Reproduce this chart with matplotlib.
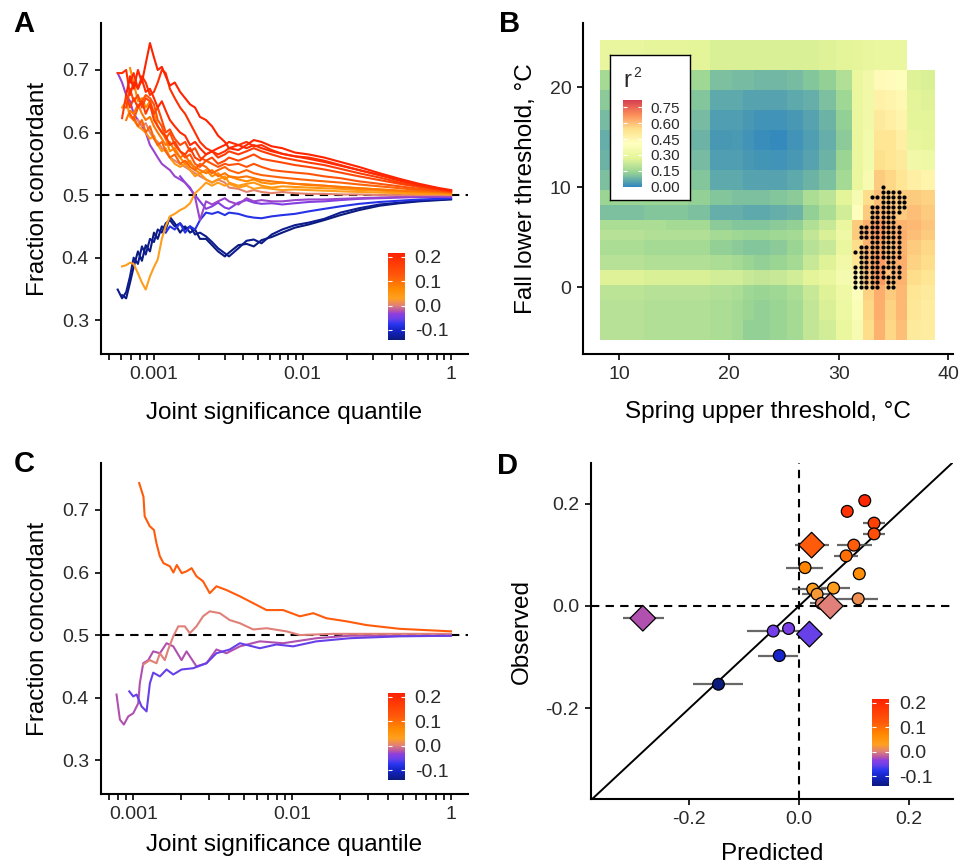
import numpy as np
import matplotlib
matplotlib.use("Agg")
import matplotlib.pyplot as plt
from matplotlib.colors import LinearSegmentedColormap, Normalize
from matplotlib.cm import ScalarMappable
from matplotlib.ticker import FixedLocator, FixedFormatter, LogLocator, NullFormatter

# --- four panel figure: concordance curves, threshold heatmap, predicted vs observed ---

plt.rcParams['font.family'] = ['Liberation Sans', 'DejaVu Sans']
plt.rcParams['axes.unicode_minus'] = False

nan = np.nan

# ---------------- Panel A data (quantile grid shared by all lines) ----------------
a_quantile = [0.00057, 0.00061, 0.00065, 0.00069, 0.00073, 0.00078, 0.00083, 0.00088, 0.00094, 0.001,
              0.00106, 0.00113, 0.0012, 0.00128, 0.00138, 0.0015, 0.00162, 0.00175, 0.00189, 0.00204,
              0.00224, 0.00246, 0.0027, 0.003, 0.0032, 0.0037, 0.0042, 0.0047, 0.0053, 0.0062,
              0.0073, 0.0089, 0.011, 0.014, 0.018, 0.024, 0.033, 0.045, 0.061, 0.084, 0.1]

a_red1 = [nan, nan, 0.66, 0.69, 0.67, 0.70, 0.68, 0.71, 0.743, 0.72, 0.70, 0.705, 0.69, 0.675, 0.68, 0.665,
          0.655, 0.645, 0.64, 0.625, 0.62, 0.61, 0.595, 0.585, 0.575, 0.572, 0.58, 0.588, 0.585, 0.578,
          0.575, 0.568, 0.565, 0.56, 0.553, 0.545, 0.535, 0.526, 0.518, 0.511, 0.508]
a_red2 = [nan, nan, nan, 0.68, 0.695, 0.67, 0.685, 0.665, 0.67, 0.655, 0.64, 0.65, 0.635, 0.62, 0.61, 0.60,
          0.595, 0.58, 0.585, 0.575, 0.565, 0.57, 0.575, 0.58, 0.585, 0.58, 0.575, 0.58, 0.575, 0.57,
          0.566, 0.562, 0.558, 0.553, 0.547, 0.54, 0.532, 0.523, 0.516, 0.51, 0.507]
a_red3 = [0.695, 0.695, 0.70, 0.66, 0.68, 0.67, 0.69, 0.68, 0.66, 0.665, 0.68, 0.70, 0.695, 0.67, 0.655, 0.64,
          0.63, 0.615, 0.60, 0.585, 0.575, 0.57, 0.565, 0.57, 0.575, 0.58, 0.585, 0.578, 0.58, 0.572,
          0.566, 0.562, 0.56, 0.555, 0.548, 0.54, 0.532, 0.524, 0.516, 0.51, 0.507]
a_red4 = [nan, 0.623, 0.66, 0.64, 0.655, 0.64, 0.65, 0.63, 0.645, 0.62, 0.61, 0.60, 0.595, 0.58, 0.585, 0.57,
          0.565, 0.575, 0.56, 0.555, 0.565, 0.57, 0.56, 0.565, 0.57, 0.565, 0.57, 0.575, 0.57, 0.565,
          0.56, 0.556, 0.552, 0.548, 0.542, 0.535, 0.528, 0.52, 0.514, 0.509, 0.506]
a_red5 = [nan, nan, 0.64, 0.67, 0.65, 0.66, 0.64, 0.655, 0.65, 0.63, 0.64, 0.62, 0.60, 0.605, 0.59, 0.58,
          0.585, 0.57, 0.575, 0.56, 0.555, 0.56, 0.55, 0.555, 0.56, 0.555, 0.56, 0.565, 0.558, 0.555,
          0.552, 0.548, 0.545, 0.541, 0.536, 0.53, 0.524, 0.518, 0.513, 0.508, 0.506]
a_red6 = [nan, nan, nan, 0.63, 0.62, 0.64, 0.65, 0.66, 0.655, 0.645, 0.62, 0.61, 0.59, 0.60, 0.58, 0.57,
          0.56, 0.565, 0.55, 0.545, 0.555, 0.55, 0.545, 0.55, 0.548, 0.55, 0.545, 0.55, 0.545, 0.54,
          0.538, 0.536, 0.534, 0.53, 0.527, 0.522, 0.518, 0.514, 0.51, 0.507, 0.505]
a_red7 = [nan, nan, nan, nan, 0.625, 0.61, 0.62, 0.60, 0.61, 0.59, 0.58, 0.585, 0.57, 0.56, 0.565, 0.55,
          0.555, 0.545, 0.54, 0.55, 0.545, 0.535, 0.54, 0.545, 0.54, 0.535, 0.54, 0.535, 0.532, 0.53,
          0.528, 0.526, 0.524, 0.522, 0.52, 0.517, 0.514, 0.511, 0.508, 0.506, 0.504]
a_orange1 = [nan, nan, 0.62, 0.635, 0.63, 0.645, 0.63, 0.62, 0.625, 0.61, 0.60, 0.59, 0.58, 0.585, 0.57, 0.56,
             0.565, 0.55, 0.545, 0.54, 0.535, 0.54, 0.53, 0.535, 0.53, 0.528, 0.53, 0.527, 0.524, 0.522,
             0.52, 0.518, 0.517, 0.515, 0.513, 0.511, 0.509, 0.507, 0.506, 0.505, 0.504]
a_orange2 = [nan, nan, nan, 0.703, 0.68, 0.65, 0.655, 0.64, 0.65, 0.63, 0.61, 0.60, 0.59, 0.57, 0.575, 0.56,
             0.55, 0.555, 0.54, 0.535, 0.54, 0.53, 0.535, 0.525, 0.53, 0.525, 0.522, 0.525, 0.52, 0.518,
             0.52, 0.518, 0.516, 0.515, 0.513, 0.511, 0.509, 0.507, 0.505, 0.504, 0.503]
a_orange3 = [nan, 0.64, 0.65, 0.625, 0.62, 0.61, 0.605, 0.60, 0.59, 0.595, 0.58, 0.57, 0.575, 0.56, 0.55, 0.545,
             0.55, 0.54, 0.53, 0.535, 0.525, 0.52, 0.525, 0.53, 0.52, 0.515, 0.518, 0.52, 0.515, 0.512,
             0.514, 0.513, 0.512, 0.511, 0.51, 0.508, 0.507, 0.505, 0.504, 0.503, 0.502]
a_orange4 = [nan, 0.386, 0.388, 0.392, 0.39, 0.375, 0.36, 0.349, 0.37, 0.385, 0.397, 0.43, 0.45, 0.466, 0.47,
             0.476, 0.48, 0.487, 0.503, 0.51, 0.52, 0.515, 0.52, 0.515, 0.518, 0.512, 0.515, 0.51, 0.512,
             0.51, 0.508, 0.509, 0.508, 0.507, 0.506, 0.505, 0.504, 0.503, 0.502, 0.502, 0.501]
a_salmon = [nan, nan, nan, nan, nan, 0.62, 0.61, 0.615, 0.60, 0.59, 0.585, 0.575, 0.57, 0.56, 0.555, 0.55,
            0.545, 0.54, 0.535, 0.53, 0.525, 0.52, 0.525, 0.52, 0.512, 0.51, 0.505, 0.508, 0.505, 0.503,
            0.505, 0.503, 0.502, 0.502, 0.501, 0.501, 0.5, 0.5, 0.5, 0.5, 0.5]
a_purple1 = [0.695, 0.68, 0.66, 0.65, 0.63, 0.62, 0.61, 0.60, 0.58, 0.57, 0.56, 0.55, 0.545, 0.54, 0.53, 0.525,
             0.52, 0.512, 0.497, 0.46, 0.49, 0.485, 0.49, 0.495, 0.49, 0.485, 0.495, 0.49, 0.492, 0.49,
             0.49, 0.492, 0.493, 0.493, 0.494, 0.495, 0.496, 0.497, 0.498, 0.498, 0.498]
a_purple2 = [nan, nan, nan, nan, nan, nan, nan, nan, nan, nan, nan, nan, nan, nan, nan, 0.53,
             0.52, 0.51, 0.5, 0.49, 0.478, 0.482, 0.488, 0.48, 0.478, 0.488, 0.492, 0.488, 0.486, 0.487,
             0.485, 0.487, 0.489, 0.49, 0.492, 0.494, 0.495, 0.496, 0.497, 0.497, 0.497]
a_blue = [nan, nan, nan, nan, nan, nan, nan, nan, nan, nan, nan, nan, 0.44, 0.45, 0.445, 0.455,
          0.44, 0.45, 0.445, 0.46, 0.472, 0.47, 0.473, 0.468, 0.472, 0.47, 0.466, 0.464, 0.463, 0.466,
          0.468, 0.47, 0.474, 0.478, 0.482, 0.486, 0.489, 0.491, 0.493, 0.494, 0.495]
a_navy1 = [0.349, 0.335, 0.345, 0.37, 0.40, 0.39, 0.418, 0.405, 0.43, 0.425, 0.445, 0.44, 0.455, 0.46, 0.45,
           0.455, 0.445, 0.45, 0.437, 0.44, 0.434, 0.425, 0.415, 0.407, 0.402, 0.415, 0.427, 0.429, 0.423,
           0.437, 0.445, 0.452, 0.456, 0.462, 0.472, 0.479, 0.485, 0.488, 0.491, 0.493, 0.494]
a_navy2 = [nan, 0.34, 0.335, 0.36, 0.385, 0.41, 0.395, 0.42, 0.41, 0.44, 0.43, 0.45, 0.445, 0.465, 0.455,
           0.44, 0.45, 0.44, 0.445, 0.43, 0.43, 0.42, 0.41, 0.402, 0.408, 0.42, 0.422, 0.418, 0.428,
           0.433, 0.44, 0.448, 0.453, 0.46, 0.468, 0.476, 0.483, 0.487, 0.49, 0.492, 0.493]

a_series = [a_navy2, a_navy1, a_blue, a_purple2, a_purple1, a_salmon, a_orange4, a_orange3, a_orange2,
            a_orange1, a_red7, a_red6, a_red5, a_red4, a_red3, a_red2, a_red1]
a_values = [-0.14, -0.13, -0.08, -0.04, -0.03, 0.005, 0.035, 0.05, 0.07,
            0.09, 0.11, 0.13, 0.15, 0.17, 0.19, 0.20, 0.21]

# ---------------- Panel C data ----------------
c_red_q = [0.00109, 0.00116, 0.00118, 0.00127, 0.00135, 0.0014, 0.00147, 0.00155, 0.0017, 0.00179,
           0.00188, 0.00202, 0.00217, 0.00233, 0.0025, 0.00275, 0.00303, 0.00334, 0.00386, 0.00469,
           0.00569, 0.0069, 0.00878, 0.0112, 0.0136, 0.0164, 0.022, 0.0294, 0.0476, 0.1]
c_red_y = [0.743, 0.721, 0.69, 0.674, 0.668, 0.647, 0.626, 0.615, 0.61, 0.60,
           0.612, 0.599, 0.602, 0.607, 0.594, 0.586, 0.567, 0.578, 0.572, 0.562,
           0.551, 0.54, 0.54, 0.53, 0.535, 0.527, 0.522, 0.516, 0.51, 0.506]
c_magenta_q = [0.000785, 0.000824, 0.000873, 0.00093, 0.001, 0.001075, 0.0011, 0.001156, 0.001243, 0.001336,
               0.001472, 0.001621, 0.001786, 0.002014, 0.002165, 0.0025, 0.00289, 0.00334, 0.00386, 0.00469,
               0.00626, 0.00878, 0.01422, 0.02306, 0.1]
c_magenta_y = [0.405, 0.365, 0.357, 0.37, 0.375, 0.391, 0.423, 0.455, 0.46, 0.474,
               0.471, 0.487, 0.482, 0.46, 0.474, 0.45, 0.455, 0.477, 0.471, 0.482,
               0.49, 0.487, 0.495, 0.499, 0.499]
c_salmon_q = [0.001156, 0.001273, 0.0014, 0.001472, 0.00158, 0.00166, 0.001786, 0.00192, 0.00211, 0.00227,
              0.0025, 0.00275, 0.00303, 0.00351, 0.00405, 0.00469, 0.00569, 0.0069, 0.0092, 0.0112,
              0.0181, 0.1]
c_salmon_y = [0.453, 0.46, 0.455, 0.471, 0.46, 0.477, 0.498, 0.514, 0.514, 0.503,
              0.514, 0.53, 0.538, 0.535, 0.524, 0.519, 0.509, 0.511, 0.506, 0.50,
              0.502, 0.502]
c_blue_q = [0.000944, 0.001, 0.00105, 0.001128, 0.001213, 0.001273, 0.001336, 0.001472, 0.001621, 0.001786,
            0.002014, 0.00238, 0.00289, 0.00334, 0.00405, 0.00469, 0.00626, 0.00797, 0.01014, 0.01422,
            0.02306, 0.0476, 0.1]
c_blue_y = [0.41, 0.402, 0.405, 0.386, 0.378, 0.423, 0.44, 0.434, 0.445, 0.437,
            0.445, 0.447, 0.455, 0.471, 0.477, 0.487, 0.479, 0.485, 0.482, 0.49,
            0.495, 0.498, 0.499]
c_values = [0.119, -0.024, 0.0, -0.055]

quantile_ticks = [0.001, 0.01, 0.1]
quantile_labels = ['0.001', '0.01', '1']

# ---------------- Panel B data (r2 over threshold grid) ----------------
b_x_edges = [8.25, 10.25, 12.25, 14.25, 16.25, 18.25, 20.25, 21.25, 22.25, 23.75, 25.25,
             26.75, 28.25, 29.75, 31.25, 32.25, 33.25, 34.25, 35.25, 36.25, 37.5, 38.75]
b_y_edges = [-5.25, -3.25, -1.25, 0.25, 1.75, 3.25, 4.75, 5.75, 6.75, 8.25, 9.75,
             11.75, 13.75, 15.75, 17.75, 19.75, 21.75, 24.75]
b_r2 = [
    [0.19, 0.19, 0.18, 0.18, 0.18, 0.17, 0.16, 0.13, 0.13, 0.14, 0.16, 0.21, 0.24, 0.30, 0.36, 0.55, 0.62, 0.56, 0.60, 0.50, 0.49],
    [0.19, 0.19, 0.18, 0.18, 0.18, 0.17, 0.16, 0.14, 0.13, 0.14, 0.16, 0.21, 0.25, 0.31, 0.38, 0.56, 0.63, 0.57, 0.61, 0.51, 0.49],
    [0.20, 0.20, 0.19, 0.19, 0.19, 0.18, 0.17, 0.15, 0.14, 0.15, 0.17, 0.22, 0.26, 0.32, 0.40, 0.57, 0.63, 0.58, 0.61, 0.52, 0.50],
    [0.26, 0.26, 0.25, 0.25, 0.25, 0.24, 0.24, 0.22, 0.21, 0.22, 0.24, 0.27, 0.30, 0.35, 0.45, 0.60, 0.66, 0.60, 0.62, 0.55, 0.52],
    [0.19, 0.19, 0.18, 0.18, 0.18, 0.17, 0.16, 0.14, 0.13, 0.14, 0.16, 0.22, 0.26, 0.33, 0.52, 0.62, 0.66, 0.61, 0.63, 0.57, 0.55],
    [0.17, 0.17, 0.16, 0.16, 0.16, 0.13, 0.12, 0.11, 0.11, 0.12, 0.14, 0.19, 0.22, 0.30, 0.55, 0.62, 0.65, 0.60, 0.62, 0.58, 0.56],
    [0.19, 0.19, 0.18, 0.18, 0.18, 0.16, 0.15, 0.14, 0.14, 0.15, 0.16, 0.21, 0.25, 0.32, 0.58, 0.63, 0.66, 0.62, 0.63, 0.60, 0.58],
    [0.17, 0.17, 0.17, 0.16, 0.16, 0.12, 0.11, 0.11, 0.11, 0.12, 0.13, 0.18, 0.22, 0.30, 0.58, 0.63, 0.66, 0.62, 0.62, 0.61, 0.59],
    [0.10, 0.10, 0.11, 0.11, 0.10, 0.07, 0.07, 0.06, 0.06, 0.07, 0.08, 0.13, 0.17, 0.24, 0.40, 0.58, 0.62, 0.60, 0.58, 0.60, 0.58],
    [0.14, 0.14, 0.14, 0.14, 0.13, 0.11, 0.10, 0.10, 0.10, 0.11, 0.12, 0.17, 0.20, 0.27, 0.36, 0.55, 0.60, 0.58, 0.58, 0.58, 0.57],
    [0.10, 0.11, 0.11, 0.11, 0.11, 0.06, 0.06, 0.05, 0.05, 0.05, 0.06, 0.08, 0.10, 0.16, 0.30, 0.36, 0.58, 0.56, 0.52, 0.48, 0.46],
    [0.08, 0.09, 0.09, 0.10, 0.09, 0.04, 0.04, 0.03, 0.025, 0.02, 0.03, 0.05, 0.08, 0.14, 0.30, 0.34, 0.54, 0.52, 0.50, 0.33, 0.32],
    [0.07, 0.08, 0.08, 0.09, 0.08, 0.03, 0.035, 0.02, 0.01, 0.005, 0.02, 0.04, 0.07, 0.12, 0.30, 0.34, 0.52, 0.52, 0.48, 0.29, 0.28],
    [0.09, 0.09, 0.10, 0.10, 0.09, 0.04, 0.04, 0.03, 0.02, 0.02, 0.03, 0.05, 0.08, 0.13, 0.30, 0.33, 0.50, 0.48, 0.46, 0.27, 0.27],
    [0.12, 0.12, 0.13, 0.12, 0.11, 0.06, 0.06, 0.05, 0.05, 0.05, 0.06, 0.07, 0.10, 0.15, 0.30, 0.33, 0.47, 0.46, 0.44, 0.27, 0.26],
    [0.16, 0.16, 0.17, 0.16, 0.15, 0.10, 0.09, 0.09, 0.085, 0.085, 0.09, 0.11, 0.13, 0.18, 0.30, 0.33, 0.43, 0.42, 0.40, 0.26, 0.25],
    [0.29, 0.29, 0.28, 0.28, 0.27, 0.25, 0.25, 0.25, 0.25, 0.25, 0.25, 0.25, 0.26, 0.27, 0.28, 0.29, 0.30, 0.30, 0.30, nan, nan],
]
b_r2_ticks = [0.0, 0.15, 0.30, 0.45, 0.60, 0.75]

# best-fit threshold combinations (dots), one string per fall threshold
b_dot_x = [31.5, 32.0, 32.5, 33.0, 33.5, 34.0, 34.5, 35.0, 35.5, 36.0]
b_dot_y = [10.0, 9.5, 9.0, 8.5, 8.0, 7.5, 7.0, 6.5, 6.0, 5.5, 5.0,
           4.5, 4.0, 3.5, 3.0, 2.5, 2.0, 1.5, 1.0, 0.5, 0.0]
b_dot_mask = [".....X....", ".....XXXX.", "...XXXXXXX", ".....XXXXX", "...XXXXXXX",
              "...XXXXXX.", "...XXXXX..", "...XXXXX..", ".XXXXXXXX.", ".XXXXXXXX.",
              ".XXXXXXXX.", "...XXXXXX.", ".XXXXXXXX.", "XXXXXXXXX.", ".XXXXXXXX.",
              ".XXXX.XX..", "XXXXXXXXX.", "XXXXXX.XX.", "XXXXXXXXX.", "XXXXX.XX..",
              "XXXXX.XX.."]

# ---------------- Panel D data ----------------
d_circle_pred = [-0.147, -0.036, -0.047, -0.019, 0.011, 0.025, 0.033, 0.041, 0.063,
                 0.108, 0.11, 0.086, 0.1, 0.088, 0.12, 0.137, 0.137]
d_circle_obs = [-0.153, -0.097, -0.049, -0.044, 0.075, 0.033, 0.023, 0.005, 0.035,
                0.014, 0.063, 0.098, 0.119, 0.185, 0.206, 0.162, 0.141]
d_circle_lo = [-0.193, -0.074, -0.095, -0.03, -0.023, -0.013, 0.005, 0.02, 0.04,
               0.063, 0.105, 0.063, 0.069, 0.083, 0.115, 0.117, 0.117]
d_circle_hi = [-0.102, -0.001, 0.002, -0.008, 0.043, 0.05, 0.06, 0.063, 0.093,
               0.145, 0.115, 0.108, 0.133, 0.093, 0.125, 0.157, 0.157]
d_diamond_pred = [-0.285, 0.019, 0.057, 0.023]
d_diamond_obs = [-0.024, -0.055, 0.0, 0.119]
d_diamond_lo = [-0.322, 0.008, 0.035, -0.007]
d_diamond_hi = [-0.246, 0.03, 0.082, 0.054]
d_ticks = [-0.2, 0.0, 0.2]
d_tick_labels = ['-0.2', '0.0', '0.2']

cbar_ticks = [-0.1, 0.0, 0.1, 0.2]
cbar_labels = ['-0.1', '0.0', '0.1', '0.2']

# ---------------- colours ----------------
effect_nodes = [(-0.141, '#0b1a7d'), (-0.10, '#1524c8'), (-0.075, '#2a36f0'), (-0.055, '#6a40e8'),
                (-0.035, '#8c3ee0'), (-0.024, '#b050b0'), (0.0, '#e08078'), (0.03, '#ffa020'),
                (0.07, '#ff8a00'), (0.12, '#ff5a0a'), (0.215, '#ff2200')]
e_min, e_max = effect_nodes[0][0], effect_nodes[-1][0]
effect_cmap = LinearSegmentedColormap.from_list(
    'effect', [((v - e_min) / (e_max - e_min), c) for v, c in effect_nodes])
effect_norm = Normalize(e_min, e_max)

r2_cmap = LinearSegmentedColormap.from_list(
    'spectral7', ['#3288bd', '#99d594', '#e6f598', '#ffffbf', '#fee08b', '#fc8d59', '#d53e4f'])
r2_norm = Normalize(0.0, 0.82)

W, H = 961, 867
TEXT = '#2a2a2a'


def px_box(left, top, right, bottom):
    return [left / W, 1 - bottom / H, (right - left) / W, (bottom - top) / H]


def style_axes(ax):
    for side in ['top', 'right']:
        ax.spines[side].set_visible(False)
    for side in ['left', 'bottom']:
        ax.spines[side].set_linewidth(1.5)
    ax.tick_params(which='both', length=4.5, width=1.2, color='black',
                   labelsize=14, labelcolor=TEXT, pad=4)
    ax.set_facecolor('none')


def effect_colorbar(box):
    cax = fig.add_axes(px_box(*box))
    cb = fig.colorbar(ScalarMappable(effect_norm, effect_cmap), cax=cax)
    cb.outline.set_visible(False)
    cb.set_ticks(cbar_ticks)
    cb.set_ticklabels(cbar_labels)
    cax.tick_params(axis='y', direction='in', left=True, right=True, length=3, width=0.8,
                    color='white', labelsize=14, labelcolor=TEXT, pad=7)
    return cb


def concordance_axes(ax, xlim, xpad):
    style_axes(ax)
    ax.set_xscale('log')
    ax.set_xlim(*xlim)
    ax.set_ylim(0.246, 0.7746)
    ax.xaxis.set_major_locator(FixedLocator(quantile_ticks))
    ax.xaxis.set_major_formatter(FixedFormatter(quantile_labels))
    ax.xaxis.set_minor_locator(LogLocator(base=10, subs=np.arange(2, 10)))
    ax.xaxis.set_minor_formatter(NullFormatter())
    ax.set_yticks([0.3, 0.4, 0.5, 0.6, 0.7])
    ax.set_yticklabels(['0.3', '0.4', '0.5', '0.6', '0.7'])
    ax.axhline(0.5, color='black', lw=1.5, ls=(0, (4, 3)), zorder=1)
    ax.set_xlabel('Joint significance quantile', fontsize=17.5, labelpad=xpad)
    ax.set_ylabel('Fraction concordant', fontsize=17.5, labelpad=9)


fig = plt.figure(figsize=(W / 100, H / 100), dpi=100)

# 1. Panel A
ax_a = fig.add_axes(px_box(100.7, 23.3, 468, 354))
for ys, val in zip(a_series, a_values):
    ax_a.plot(a_quantile, ys, color=effect_cmap(effect_norm(val)), lw=1.5, zorder=2)
concordance_axes(ax_a, (4.38e-4, 0.13), 14)
effect_colorbar((388, 253, 405, 340))

# 2. Panel C
ax_c = fig.add_axes(px_box(100.7, 463.3, 468.3, 794))
c_lines = [(c_red_q, c_red_y), (c_magenta_q, c_magenta_y), (c_salmon_q, c_salmon_y), (c_blue_q, c_blue_y)]
for (qs, ys), val in zip(c_lines, c_values):
    ax_c.plot(qs, ys, color=effect_cmap(effect_norm(val)), lw=1.5, zorder=2)
concordance_axes(ax_c, (6.24e-4, 0.1285), 8)
effect_colorbar((388, 693.3, 405, 780))

# 3. Panel B heatmap
ax_b = fig.add_axes(px_box(583.3, 23.3, 952.7, 354))
style_axes(ax_b)
ax_b.pcolormesh(b_x_edges, b_y_edges, np.ma.masked_invalid(np.array(b_r2)),
                cmap=r2_cmap, norm=r2_norm, shading='flat', antialiased=False, zorder=1)
dots_x, dots_y = [], []
for yv, row in zip(b_dot_y, b_dot_mask):
    for xv, flag in zip(b_dot_x, row):
        if flag == 'X':
            dots_x.append(xv)
            dots_y.append(yv)
ax_b.plot(dots_x, dots_y, 'o', color='black', ms=3.0, mew=0, zorder=3)
ax_b.set_xlim(6.72, 40.4)
ax_b.set_ylim(-6.66, 26.4)
ax_b.set_xticks([10, 20, 30, 40])
ax_b.set_yticks([0, 10, 20])
ax_b.set_xlabel('Spring upper threshold, °C', fontsize=17.5, labelpad=13)
ax_b.set_ylabel('Fall lower threshold, °C', fontsize=17.5, labelpad=9)

# legend box for r2
leg_ax = fig.add_axes(px_box(610, 55, 690, 200), zorder=3)
leg_ax.set_xticks([])
leg_ax.set_yticks([])
leg_ax.set_facecolor('white')
for sp in leg_ax.spines.values():
    sp.set_linewidth(1.0)
    sp.set_color('black')
leg_ax.text(0.17, 0.745, 'r', transform=leg_ax.transAxes, fontsize=17, color=TEXT, va='bottom')
leg_ax.text(0.29, 0.83, '2', transform=leg_ax.transAxes, fontsize=10, color=TEXT, va='bottom')
r2_cax = fig.add_axes(px_box(623.3, 100, 641.7, 186.7), zorder=4)
r2_cb = fig.colorbar(ScalarMappable(r2_norm, r2_cmap), cax=r2_cax)
r2_cb.outline.set_visible(False)
r2_cb.set_ticks(b_r2_ticks)
r2_cb.set_ticklabels([f'{t:.2f}' for t in b_r2_ticks])
r2_cax.tick_params(axis='y', direction='in', left=True, right=True, length=3, width=0.8,
                   color='white', labelsize=11, labelcolor=TEXT, pad=6)

# 4. Panel D
ax_d = fig.add_axes(px_box(591, 463.3, 952.7, 799.3))
style_axes(ax_d)
ax_d.set_xlim(-0.3796, 0.2805)
ax_d.set_ylim(-0.378, 0.279)
ax_d.axline((0, 0), slope=1, color='black', lw=1.4, zorder=1)
ax_d.axhline(0, color='black', lw=1.5, ls=(0, (4, 3)), zorder=1)
ax_d.axvline(0, color='black', lw=1.5, ls=(0, (4, 3)), zorder=1)
ax_d.hlines(d_circle_obs, d_circle_lo, d_circle_hi, color='#4d4d4d', lw=1.6, alpha=0.85, zorder=2)
ax_d.hlines(d_diamond_obs, d_diamond_lo, d_diamond_hi, color='#4d4d4d', lw=1.6, alpha=0.85, zorder=2)
ax_d.scatter(d_circle_pred, d_circle_obs, s=72, marker='o', c=d_circle_obs, cmap=effect_cmap,
             norm=effect_norm, edgecolors='black', linewidths=0.9, zorder=3)
ax_d.scatter(d_diamond_pred, d_diamond_obs, s=170, marker='D', c=d_diamond_obs, cmap=effect_cmap,
             norm=effect_norm, edgecolors='black', linewidths=0.9, zorder=3)
ax_d.set_xticks(d_ticks)
ax_d.set_xticklabels(d_tick_labels)
ax_d.set_yticks(d_ticks)
ax_d.set_yticklabels(d_tick_labels)
ax_d.set_xlabel('Predicted', fontsize=17.5, labelpad=11)
ax_d.set_ylabel('Observed', fontsize=17.5, labelpad=9)
effect_colorbar((871.7, 699.3, 889.3, 786))

# 5. Panel letters
for letter, (px, py) in zip('ABCD', [(13, 10), (499, 10), (14, 450), (497, 452)]):
    fig.text(px / W, 1 - py / H, letter, fontsize=21, fontweight='bold', va='top', ha='left')

fig.savefig('out.png', dpi=100)
